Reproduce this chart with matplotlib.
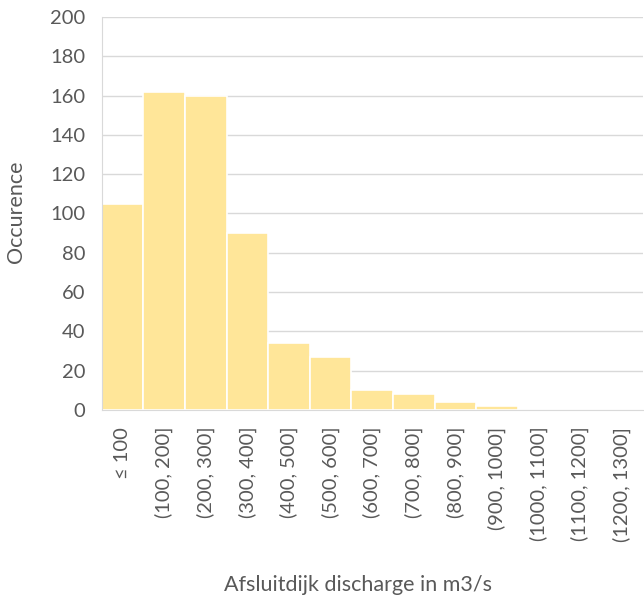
import numpy as np
import matplotlib.pyplot as plt

plt.rcParams['font.family'] = ['Lato', 'DejaVu Sans']

bins = ["≤ 100", "(100, 200]", "(200, 300]", "(300, 400]", "(400, 500]",
        "(500, 600]", "(600, 700]", "(700, 800]", "(800, 900]", "(900, 1000]",
        "(1000, 1100]", "(1100, 1200]", "(1200, 1300]"]
counts = [105, 162, 160, 90, 34, 27, 10, 8, 4, 2, 0, 0, 0]

grey = "#595959"

fig = plt.figure(figsize=(6.44, 6.03), dpi=100)
ax = fig.add_axes([0.158, 0.320, 0.840, 0.652])

x = np.arange(len(bins))
ax.bar(x, counts, width=1.0, color="#FFE699", edgecolor="white", linewidth=1.2, zorder=2)

ax.set_xlim(-0.5, len(bins) - 0.5)
ax.set_ylim(0, 200)
ax.set_yticks(range(0, 201, 20))
ax.set_xticks(x)
ax.set_xticklabels(bins, rotation=90)
ax.tick_params(length=0, colors=grey, labelsize=14.5)
ax.tick_params(axis="y", pad=12)
ax.tick_params(axis="x", pad=12)
ax.grid(axis="y", color="#d9d9d9", linewidth=1, zorder=0)

for s in ["top", "right"]:
    ax.spines[s].set_visible(False)
ax.spines["left"].set_color("#d9d9d9")
ax.spines["bottom"].set_color("#d9d9d9")

ax.set_ylabel("Occurence", color=grey, fontsize=15.5)
ax.set_xlabel("Afsluitdijk discharge in m3/s", color=grey, fontsize=15.5)
ax.yaxis.set_label_coords(-0.159, 0.504)
ax.xaxis.set_label_coords(0.473, -0.445)
ax.xaxis.label.set_va("center")
ax.yaxis.label.set_va("center")

fig.savefig("out.png", dpi=100)
